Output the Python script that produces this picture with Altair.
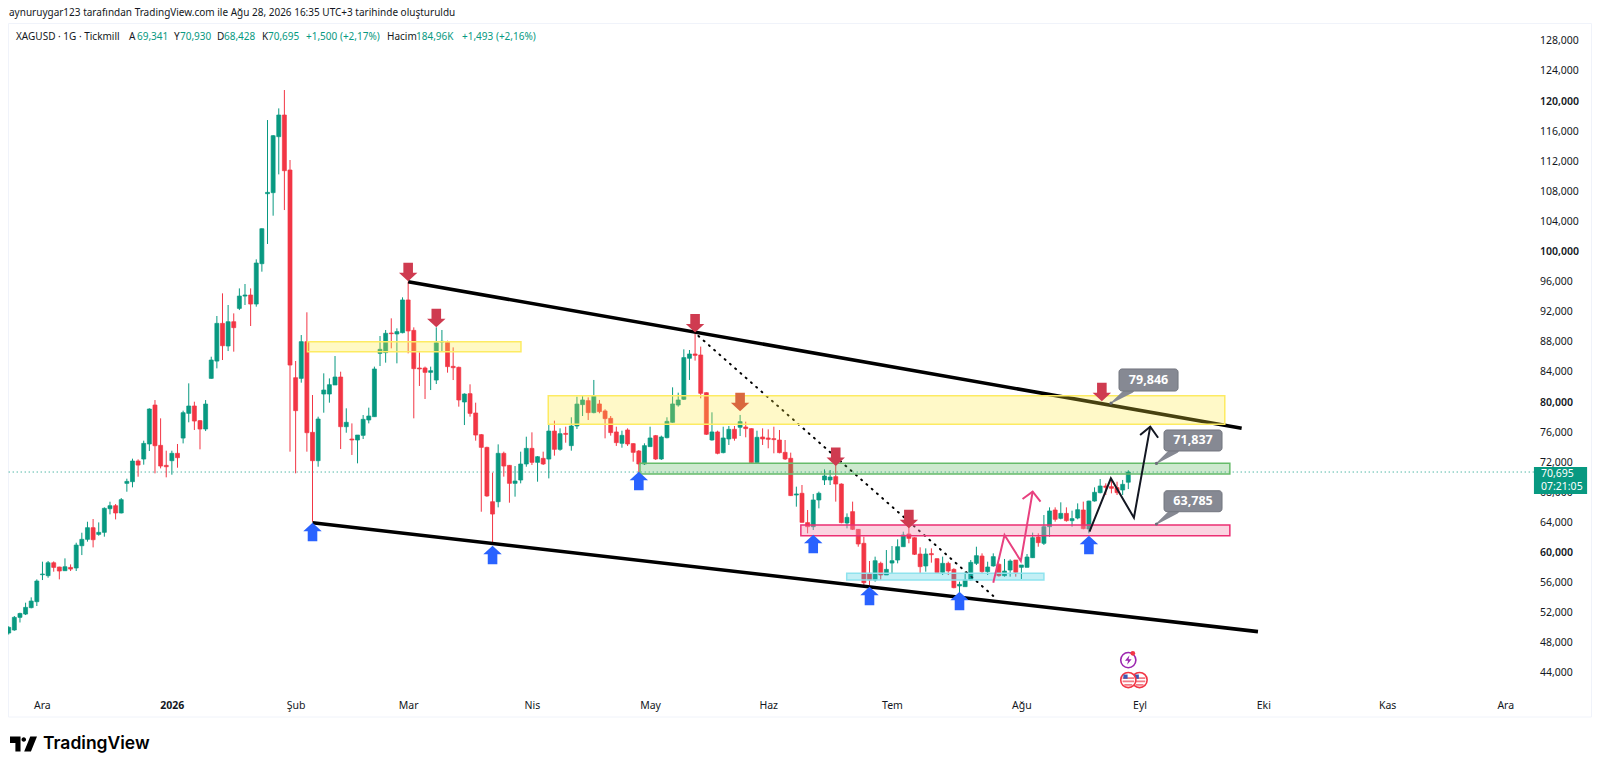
import json
import altair as alt
import pandas as pd

FONT = "Noto Sans"
UP, DOWN = "#089981", "#f23645"

opens = [49.3,49.7,51.38,51.82,52.67,53.46,57.05,56.92,58.64,58.07,
57.58,58.02,57.94,60.9,61.75,63.3,62.41,62.68,65.82,66.22,
65.25,69.19,69.41,72.16,72.42,74.42,79.6,74.24,71.58,72.2,
73.18,75.21,78.49,79.47,77.52,76.41,83.14,85.44,90.45,87.44,
90.67,92.44,94.08,94.22,93.02,98.38,107.68,107.82,115.26,118.14,
110.83,83.23,83.14,88.02,75.97,72.2,81.06,81.06,82.26,83.32,
76.72,75.08,74.95,75.57,77.61,78.05,86.47,86.56,89.17,89.04,
89.21,93.56,89.52,84.52,84.52,83.94,82.92,87.97,87.93,84.74,
84.61,80.0,81.11,78.54,75.66,73.97,66.75,66.75,73.18,71.58,
69.19,69.63,71.76,73.84,71.98,72.51,72.42,76.14,73.71,75.83,
74.2,76.81,79.65,80.18,78.59,79.74,78.81,77.83,76.02,74.51,
76.28,74.47,73.49,71.76,74.07,75.53,72.43,75.26,77.3,79.6,
80.36,85.81,86.38,86.25,81.24,74.95,76.02,73.27,75.09,76.37,
76.64,76.68,76.46,71.94,75.35,75.22,75.13,74.95,73.31,72.52,
67.64,67.87,63.97,63.43,66.98,69.64,69.64,70.08,69.1,63.92,
65.43,63.08,61.22,57.23,56.35,58.56,57.01,58.6,59.0,60.77,
62.46,61.97,59.8,58.21,59.85,59.18,57.36,58.56,57.76,55.55,
55.46,56.35,58.56,59.53,57.45,58.21,58.43,56.92,57.67,59.0,
58.03,58.03,59.31,62.06,61.22,63.43,65.65,64.54,65.2,64.23,
64.58,65.65,63.12,66.84,67.95,68.84,68.75,68.62,68.31,69.34]

closes = [50.05,51.38,51.9,52.71,53.55,56.21,57.14,58.64,58.02,57.54,
58.11,57.8,60.99,61.75,63.3,61.7,62.68,65.87,66.22,65.25,
67.02,69.45,72.16,71.62,74.5,79.07,74.19,71.49,71.4,73.18,
72.6,78.58,79.47,77.47,76.41,79.73,85.58,90.45,87.48,90.67,
89.88,94.08,94.22,93.02,98.47,103.03,107.86,115.39,118.14,110.74,
84.91,78.85,88.02,75.92,72.2,77.74,81.59,82.3,83.32,76.72,
77.3,74.95,75.61,77.7,78.14,84.39,87.0,89.13,89.08,89.35,
93.56,89.44,84.43,84.39,83.94,84.16,87.88,88.06,84.7,84.56,
80.27,81.06,78.49,75.61,73.97,67.51,65.11,73.18,71.49,69.19,
69.5,71.76,73.84,71.98,72.73,71.76,76.14,73.71,75.79,75.7,
76.81,79.73,80.27,78.59,80.8,78.72,77.79,75.93,74.6,75.57,
74.42,73.31,71.76,74.2,75.22,72.43,75.35,77.43,79.74,80.27,
85.9,86.38,86.2,81.15,75.71,76.02,73.18,75.22,76.37,75.17,
77.39,76.46,71.94,75.31,75.09,75.04,75.0,73.27,72.43,67.56,
67.78,64.01,63.43,66.98,67.87,70.17,70.03,69.1,63.97,64.67,
63.08,61.13,55.99,56.35,58.91,57.01,57.76,58.91,60.77,62.33,
61.88,59.76,58.12,59.8,59.71,57.32,58.56,57.54,55.33,55.77,
56.35,58.69,59.58,57.45,58.07,59.45,56.92,57.54,58.87,57.36,
58.34,59.4,61.97,61.31,63.43,65.52,64.41,65.2,64.23,64.5,
65.69,63.17,66.84,68.0,68.84,68.66,68.53,67.95,69.06,70.695]

highs = [50.2,51.56,52.0,53.33,54.04,56.43,58.78,58.87,58.82,58.11,
59.22,58.42,61.3,62.63,64.09,64.45,64.0,66.0,66.75,66.44,
67.24,69.81,72.47,72.38,74.86,79.16,80.26,77.83,73.53,73.53,
74.42,78.85,82.48,80.04,77.6,80.26,86.02,91.43,94.44,92.89,
91.78,95.1,95.68,95.1,98.96,103.08,117.47,115.48,119.02,121.46,
112.16,85.45,88.9,91.92,80.93,78.05,83.81,83.14,86.11,84.03,
79.16,77.16,75.61,78.27,79.25,84.7,88.77,89.57,91.12,89.79,
93.91,95.99,89.92,86.6,84.7,84.7,89.92,89.57,88.15,87.26,
84.7,81.15,82.35,79.91,75.75,74.06,70.61,74.37,73.4,71.63,
71.49,73.4,75.39,75.97,72.82,73.4,76.94,77.52,76.5,76.72,
77.97,80.71,80.8,80.62,82.93,80.27,79.03,78.14,76.72,76.19,
76.5,74.51,73.62,74.51,76.72,75.62,75.53,77.97,81.95,81.24,
87.0,86.91,89.22,87.36,81.29,78.63,76.19,76.72,76.81,76.81,
78.28,77.39,76.5,76.19,76.5,76.37,76.72,76.28,74.95,73.27,
68.75,68.97,65.65,67.78,68.09,71.05,70.96,72.74,69.19,65.2,
66.76,63.12,62.1,58.87,59.45,58.78,60.33,60.86,61.75,62.77,
63.43,62.02,60.69,60.55,60.55,59.22,59.45,58.78,57.9,56.12,
57.45,59.0,60.77,59.89,58.78,59.89,58.56,59.14,59.09,59.0,
58.34,59.8,62.64,62.55,64.98,66.0,66.0,66.67,66.0,65.56,
66.53,66.76,66.89,68.66,69.77,69.19,69.64,69.41,69.64,70.93]

lows = [49.1,49.6,50.7,51.69,52.58,52.89,56.34,56.65,57.45,56.43,
57.54,57.54,57.54,59.66,61.44,60.68,62.23,62.1,65.07,64.4,
65.2,68.08,68.66,70.07,71.67,73.49,70.52,71.18,69.99,70.34,
71.27,74.5,77.3,76.28,73.71,76.14,83.1,84.47,85.58,86.77,
86.69,92.22,92.89,90.1,92.67,97.32,101.0,104.76,110.25,105.51,
73.4,70.52,82.57,73.4,64.1,71.4,78.58,79.91,82.26,73.75,
75.92,72.96,71.85,75.08,77.16,78.05,84.78,85.23,87.13,85.14,
89.13,86.47,77.83,82.13,80.4,81.59,82.39,86.69,83.9,82.92,
79.38,76.94,78.05,74.86,65.42,67.4,61.22,66.0,70.08,66.62,
67.42,69.19,71.4,71.63,69.41,71.63,69.85,72.87,73.53,74.59,
73.53,76.41,78.14,77.61,78.5,78.5,75.17,75.53,74.16,73.93,
74.16,72.07,70.52,71.63,74.07,72.3,72.3,75.17,77.26,79.38,
80.27,82.93,85.5,80.49,75.62,74.86,73.05,73.18,74.29,74.86,
75.48,75.31,71.85,71.76,74.29,73.85,73.18,73.18,72.3,67.51,
66.09,63.97,62.55,62.99,65.87,68.97,68.97,66.76,63.88,63.21,
62.99,60.77,55.68,55.68,56.12,56.35,57.01,57.23,58.56,60.77,
61.22,59.67,57.23,57.45,58.65,57.23,57.01,57.01,55.24,54.35,
55.46,56.26,58.34,57.14,57.01,58.12,56.79,56.79,56.79,56.79,
56.48,58.03,59.27,60.77,61.0,62.1,64.1,64.41,64.1,63.43,
64.41,63.08,62.55,66.76,67.86,67.64,67.86,67.64,67.64,68.43]

price_ticks = list(range(44, 129, 4))
month_names = ["Ara", "2026", "Şub", "Mar", "Nis", "May", "Haz", "Tem", "Ağu", "Eyl", "Eki", "Kas", "Ara"]
month_bars = [5.9, 29, 51, 71, 93, 114, 135, 157, 180, 201, 223, 245, 266]

# index span and price span of the whole drawing surface
X_DOMAIN = [-0.125, 281.42]
Y_DOMAIN = [32.16, 132.36]
W, H = 1584, 754

x_scale = alt.Scale(domain=X_DOMAIN, nice=False, zero=False, padding=0)
y_scale = alt.Scale(domain=Y_DOMAIN, nice=False, zero=False, padding=0)

x_axis = alt.Axis(
    values=month_bars, orient="bottom", offset=-57, domain=False, ticks=False, grid=False, title=None,
    labelFont=FONT, labelFontSize=10.5, labelColor="#131722", labelPadding=0, labelBaseline="middle",
    labelExpr=f"{json.dumps(month_names, ensure_ascii=False)}[indexof({json.dumps(month_bars)},datum.value)]",
    labelFontWeight=alt.condition("datum.value==29", alt.value(700), alt.value(400)),
)
y_axis = alt.Axis(
    values=price_ticks, orient="right", offset=-58, domain=False, ticks=False, grid=False, title=None,
    labelFont=FONT, labelFontSize=10.5, labelColor="#131722", labelPadding=5.5,
    labelExpr="replace(format(datum.value,'.3f'),'.',',')",
    labelFontWeight=alt.condition("datum.value%20==0", alt.value(600), alt.value(400)),
)

def X(f="x"):
    return alt.X(f"{f}:Q", scale=x_scale, axis=x_axis, title=None)

def Y(f="y"):
    return alt.Y(f"{f}:Q", scale=y_scale, axis=y_axis, title=None)

candles = pd.DataFrame({"i": range(len(opens)), "o": opens, "h": highs, "l": lows, "c": closes})
candles["dir"] = ["up" if c >= o else "down" for o, c in zip(opens, closes)]
color = alt.Color("dir:N", scale=alt.Scale(domain=["up", "down"], range=[UP, DOWN]), legend=None)

layers = []

# frame of the chart pane
FRAME = "#f0f3fa"
layers.append(alt.Chart().mark_rect(fillOpacity=0, stroke=FRAME, strokeWidth=1).encode(
    x=alt.value(0.5), x2=alt.value(1583.5), y=alt.value(15.5), y2=alt.value(709)))

# last-price line
last_line = pd.DataFrame({"x": [0], "x2": [271.1], "y": [70.695]})
layers.append(alt.Chart(last_line).mark_rule(color=UP, strokeWidth=1, strokeDash=[1, 3]).encode(
    x=X(), x2="x2:Q", y=Y()))

# wicks & bodies
layers.append(alt.Chart(candles).mark_rule(strokeWidth=1, clip=True).encode(
    x=X("i"), y=Y("l"), y2="h:Q", color=color))
layers.append(alt.Chart(candles).mark_bar(size=4, strokeWidth=0.7, clip=True).encode(
    x=X("i"), y=Y("o"), y2="c:Q", color=color, stroke=color))

# channel lines
channel_up_x, channel_up_y = [71.0, 219.15], [95.99, 76.5]
channel_lo_x, channel_lo_y = [54.0, 222.05], [63.96, 49.49]
for xs, ys in [(channel_up_x, channel_up_y), (channel_lo_x, channel_lo_y)]:
    layers.append(alt.Chart(pd.DataFrame({"x": xs, "y": ys})).mark_line(
        color="#000000", strokeWidth=3.6).encode(x=X(), y=Y()))

# dotted trend
dotted_x, dotted_y = [122.6, 175.0], [88.77, 54.22]
layers.append(alt.Chart(pd.DataFrame({"x": dotted_x, "y": dotted_y})).mark_line(
    color="#000000", strokeWidth=2, strokeDash=[1, 6], strokeCap="round").encode(x=X(), y=Y()))

# zones
zones = [
    ("#ffeb3b", 0.30, "#fdeb62", 53.1, 91.05, 88.01, 86.68),
    ("#ffeb3b", 0.28, "#fdeb62", 95.9, 216.15, 80.84, 77.04),
    ("#4caf50", 0.28, "#66bb6a", 112.2, 217.05, 71.85, 70.43),
    ("#f48fb1", 0.38, "#ec2f73", 140.8, 217.05, 63.65, 62.23),
    ("#26c6da", 0.28, "#8fe3ee", 148.95, 184.0, 57.24, 56.35),
]
for fill, op, stroke, x0, x1, y0, y1 in zones:
    layers.append(alt.Chart(pd.DataFrame({"x": [x0], "x2": [x1], "y": [y0], "y2": [y1]})).mark_rect(
        fill=fill, fillOpacity=op, stroke=stroke, strokeWidth=1.5).encode(x=X(), x2="x2:Q", y=Y(), y2="y2:Q"))

# drawn scenario paths
pink_x, pink_y = [175.0, 177.0, 179.9, 182.0], [55.99, 62.33, 58.87, 68.08]
pink_head_x, pink_head_y = [180.2, 182.0, 183.4], [67.11, 68.08, 66.75]
black_x, black_y = [192.1, 195.9, 200.0, 202.9], [62.76, 69.86, 64.62, 76.72]
black_head_x, black_head_y = [201.1, 202.9, 204.3], [75.61, 76.72, 75.25]
for xs, ys, col in [(pink_x, pink_y, "#e8417f"), (pink_head_x, pink_head_y, "#e8417f"),
                    (black_x, black_y, "#131722"), (black_head_x, black_head_y, "#131722")]:
    layers.append(alt.Chart(pd.DataFrame({"x": xs, "y": ys})).mark_line(
        color=col, strokeWidth=2).encode(x=X(), y=Y()))

# arrows
ARROW_UP = "M0,-1 L1,-0.08 L0.52,-0.08 L0.52,1 L-0.52,1 L-0.52,-0.08 L-1,-0.08 Z"
ARROW_DOWN = "M0,1 L1,0.08 L0.52,0.08 L0.52,-1 L-0.52,-1 L-0.52,0.08 L-1,0.08 Z"
blue_x, blue_y = [54, 86, 112, 143, 153, 169, 192], [62.72, 59.66, 69.5, 61.13, 54.22, 53.55, 61.0]
red_x, red_y = [71, 76, 122, 147, 160, 194.3], [97.28, 91.16, 90.46, 72.73, 64.45, 81.33]
orange_x, orange_y = [130], [80.0]
for xs, ys, shape, col in [(blue_x, blue_y, ARROW_UP, "#2962ff"), (red_x, red_y, ARROW_DOWN, "#cf3b50"),
                           (orange_x, orange_y, ARROW_DOWN, "#d9683f")]:
    layers.append(alt.Chart(pd.DataFrame({"x": xs, "y": ys})).mark_point(
        shape=shape, filled=True, size=340, opacity=1, color=col).encode(x=X(), y=Y()))

# price callouts
callout_text = ["79,846", "71,837", "63,785"]
callout_x0 = [197.35, 205.35, 205.35]
callout_x1 = [207.84, 215.66, 215.66]
callout_top = [84.39, 76.28, 68.21]
callout_bot = [81.46, 73.49, 65.42]
anchor_x = [195.93, 204.0, 204.0]
anchor_y = [79.846, 71.837, 63.785]
GREY = "#868993"
for k in range(3):
    tail = pd.DataFrame({"x": [anchor_x[k], callout_x0[k] + 2.0], "y": [anchor_y[k], callout_bot[k] + 0.2], "w": [1, 8]})
    layers.append(alt.Chart(tail).mark_trail(color=GREY).encode(
        x=X(), y=Y(), size=alt.Size("w:Q", scale=None, legend=None)))
    layers.append(alt.Chart(pd.DataFrame({"x": [anchor_x[k]], "y": [anchor_y[k]]})).mark_circle(
        color="#6a6d78", size=10, opacity=1).encode(x=X(), y=Y()))
    box = pd.DataFrame({"x": [callout_x0[k]], "x2": [callout_x1[k]], "y": [callout_top[k]], "y2": [callout_bot[k]]})
    layers.append(alt.Chart(box).mark_rect(fill=GREY, stroke="#73767f", strokeWidth=1, cornerRadius=3).encode(
        x=X(), x2="x2:Q", y=Y(), y2="y2:Q"))
    lab = pd.DataFrame({"x": [(callout_x0[k] + callout_x1[k]) / 2], "y": [(callout_top[k] + callout_bot[k]) / 2],
                        "t": [callout_text[k]]})
    layers.append(alt.Chart(lab).mark_text(font=FONT, fontSize=12.5, fontWeight=700, color="#ffffff").encode(
        x=X(), y=Y(), text="t:N"))

# last-price tag
tag = pd.DataFrame({"x": [271.1], "x2": [280.55], "y": [71.36], "y2": [67.78]})
layers.append(alt.Chart(tag).mark_rect(fill=UP).encode(x=X(), x2="x2:Q", y=Y(), y2="y2:Q"))
tag_text = pd.DataFrame({"x": [272.35, 272.35], "y": [70.45, 68.7], "t": ["70,695", "07:21:05"]})
layers.append(alt.Chart(tag_text).mark_text(font=FONT, fontSize=10.5, color="#ffffff", align="left").encode(
    x=X(), y=Y(), text="t:N"))

# event icons
EVENT_X = 199
layers.append(alt.Chart(pd.DataFrame({"x": [EVENT_X], "y": [45.7]})).mark_point(
    shape="circle", size=230, filled=False, color="#9c27b0", strokeWidth=1.6, opacity=1).encode(x=X(), y=Y()))
BOLT = "M0.25,-1 L-0.7,0.15 L-0.05,0.15 L-0.25,1 L0.7,-0.2 L0.05,-0.2 Z"
layers.append(alt.Chart(pd.DataFrame({"x": [EVENT_X], "y": [45.7]})).mark_point(
    shape=BOLT, size=90, filled=True, color="#9c27b0", opacity=1).encode(x=X(), y=Y()))
layers.append(alt.Chart(pd.DataFrame({"x": [199.8], "y": [46.6]})).mark_circle(
    size=22, color="#f23645", opacity=1).encode(x=X(), y=Y()))
flag_x = [201, 199]
for fx in flag_x:
    layers.append(alt.Chart(pd.DataFrame({"x": [fx], "y": [43.05]})).mark_point(
        shape="circle", size=230, filled=True, fill="#ffffff", stroke="#f23645", strokeWidth=1.6, opacity=1).encode(x=X(), y=Y()))
    layers.append(alt.Chart(pd.DataFrame({"x": [fx], "y": [43.05]})).mark_point(
        shape="M-1,-0.5 H1 V-0.2 H-1 Z M-1,0.1 H1 V0.4 H-1 Z M-0.7,0.7 H0.7 V1 H-0.7 Z",
        size=130, filled=True, color="#f27a85", opacity=1).encode(x=X(), y=Y()))
    layers.append(alt.Chart(pd.DataFrame({"x": [fx - 0.5], "y": [43.5]})).mark_point(
        shape="square", size=18, filled=True, color="#3b5bb5", opacity=1).encode(x=X(), y=Y()))

# header, legend, logo
DARK = "#131722"
def txt(s, px, py, col=DARK, size=10, weight=400, font=FONT):
    return alt.Chart().mark_text(text=s, font=font, fontSize=size, fontWeight=weight, color=col,
                                 align="left", baseline="middle").encode(x=alt.value(px), y=alt.value(py))

layers.append(txt("aynuruygar123 tarafından TradingView.com ile Ağu 28, 2026 16:35 UTC+3 tarihinde oluşturuldu", 1, 5))
legend_parts = [
    ("XAGUSD · 1G · Tickmill", 8, DARK), ("A", 121, DARK), ("69,341", 129, UP), ("Y", 166, DARK),
    ("70,930", 172, UP), ("D", 209, DARK), ("68,428", 216, UP), ("K", 254, DARK), ("70,695", 260, UP),
    ("+1,500 (+2,17%)", 298, UP), ("Hacim", 379, DARK), ("184,96K", 408, UP), ("+1,493 (+2,16%)", 454, UP),
]
for s, px, col in legend_parts:
    layers.append(txt(s, px, 28.7, col))

LOGO = ("M-1,-0.55 H-0.22 V0.55 H-0.6 V-0.08 H-1 Z "
        "M0.02,-0.5 A0.17,0.17 0 1 1 0.02,-0.16 A0.17,0.17 0 1 1 0.02,-0.5 Z "
        "M0.5,-0.55 H1 L0.55,0.55 H0.05 Z")
layers.append(alt.Chart().mark_point(shape=LOGO, filled=True, size=729, color="#000000", opacity=1).encode(
    x=alt.value(15.5), y=alt.value(736)))
layers.append(txt("TradingView", 35, 736, "#000000", 17.5, 600, "Inter"))

chart = alt.layer(*layers).properties(
    width=W, height=H, padding=0, autosize=alt.AutoSizeParams(type="none"),
).resolve_scale(color="independent").configure_view(stroke=None)

chart.save("out.html", embed_options={"renderer": "svg", "actions": False})
